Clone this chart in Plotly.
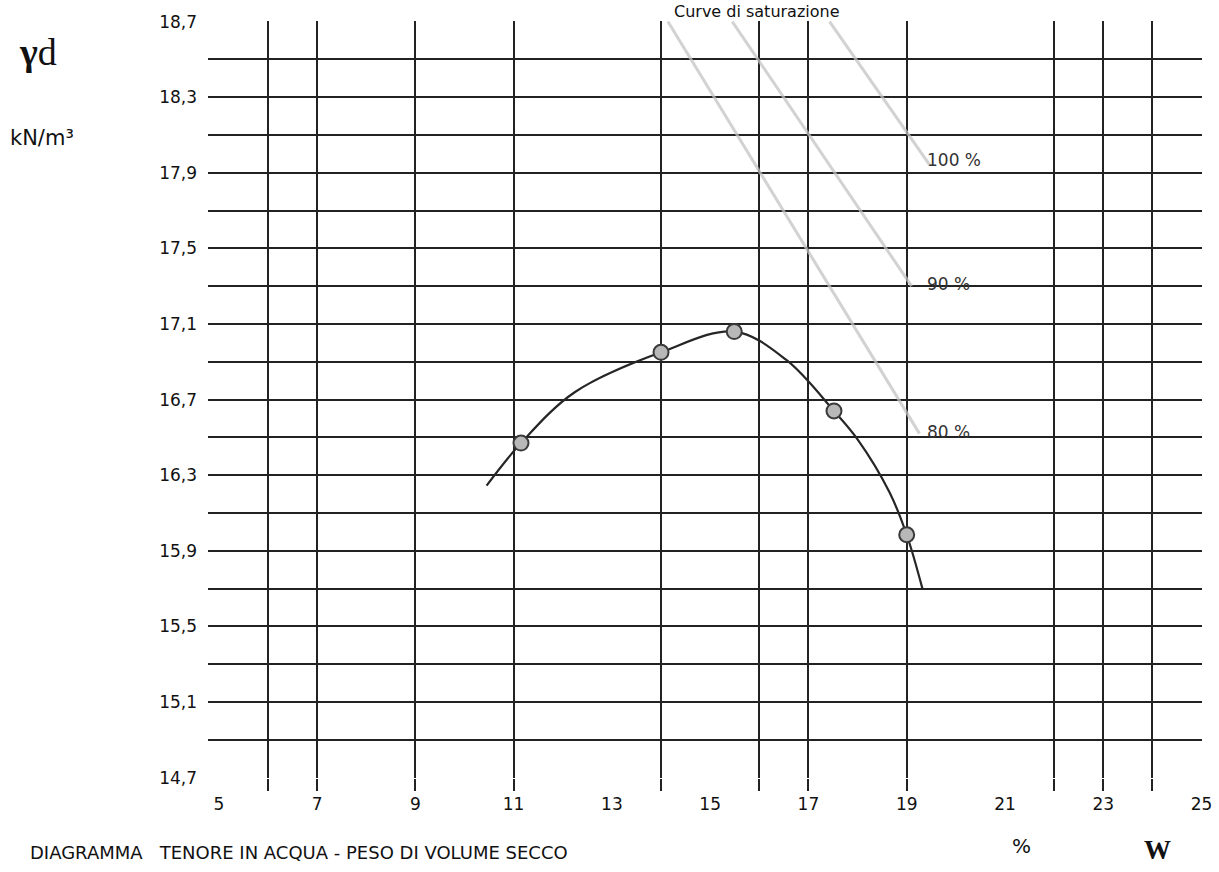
import plotly.graph_objects as go

# ---- data ----
# compaction test points (w %, gamma_d kN/m3)
w_points = [11.15, 14.0, 15.49, 17.52, 19.0]
gd_points = [16.47, 16.95, 17.06, 16.64, 15.985]

# fitted compaction curve
w_curve = [10.45, 11.15, 12.25, 14.0, 15.49, 16.55, 17.52, 18.0, 18.65, 19.0, 19.32]
gd_curve = [16.245, 16.47, 16.74, 16.95, 17.06, 16.91, 16.64, 16.49, 16.21, 15.985, 15.70]

# saturation lines (start/end)
sat_labels = ["100 %", "90 %", "80 %"]
sat_w = [[17.43, 19.47], [15.45, 19.10], [14.14, 19.26]]
sat_gd = [[18.7, 17.94], [18.7, 17.30], [18.7, 16.52]]
sat_label_w = [19.38, 19.38, 19.38]
sat_label_gd = [17.97, 17.31, 16.53]

# axes
x_label_ticks = [5, 7, 9, 11, 13, 15, 17, 19, 21, 23, 25]
x_grid_ticks = [6, 7, 9, 11, 14, 16, 17, 19, 22, 23, 24]
y_ticks = [round(14.7 + 0.2 * i, 1) for i in range(21)]
y_ticktext = [f"{v:.1f}".replace(".", ",") if i % 2 == 0 else "" for i, v in enumerate(y_ticks)]

X_RANGE = [4.78, 25.01]
Y_RANGE = [14.698, 18.703]
GRID = "#222222"
FONT = "DejaVu Sans"

fig = go.Figure()

for lab, xs, ys in zip(sat_labels, sat_w, sat_gd):
    fig.add_trace(go.Scatter(x=xs, y=ys, mode="lines",
                             line=dict(color="rgba(195,195,195,0.75)", width=3),
                             hoverinfo="skip", showlegend=False))

fig.add_trace(go.Scatter(x=w_curve, y=gd_curve, mode="lines",
                         line=dict(color="#262626", width=2.2, shape="spline", smoothing=1.0),
                         showlegend=False))
fig.add_trace(go.Scatter(x=w_points, y=gd_points, mode="markers",
                         marker=dict(size=15, color="#b8b8b8", line=dict(color="#3a3a3a", width=2)),
                         showlegend=False))

# invisible trace for secondary grid axis
fig.add_trace(go.Scatter(x=[X_RANGE[0]], y=[Y_RANGE[0]], xaxis="x2", mode="markers",
                         marker=dict(opacity=0), hoverinfo="skip", showlegend=False))

for lab, lx, ly in zip(sat_labels, sat_label_w, sat_label_gd):
    fig.add_annotation(x=lx, y=ly, text=lab, showarrow=False, xanchor="left", yanchor="middle",
                       font=dict(family=FONT, size=17, color="#333"))

def px_x(p):
    return (p - 208) / 994.0

def px_y(p):
    return (778 - p) / 757.0

fig.add_annotation(xref="paper", yref="paper", x=px_x(757), y=px_y(23), text="Curve di saturazione",
                   showarrow=False, xanchor="center", yanchor="bottom",
                   font=dict(family=FONT, size=16, color="#111"))
fig.add_annotation(xref="paper", yref="paper", x=px_x(38), y=px_y(52), text="<b>γ</b>d",
                   showarrow=False, xanchor="center", yanchor="middle",
                   font=dict(family="Liberation Serif", size=38, color="#111"))
fig.add_annotation(xref="paper", yref="paper", x=px_x(42), y=px_y(138), text="kN/m³",
                   showarrow=False, xanchor="center", yanchor="middle",
                   font=dict(family=FONT, size=21, color="#111"))
fig.add_annotation(xref="paper", yref="paper", x=px_x(28), y=px_y(852),
                   text="DIAGRAMMA\u00a0\u00a0 TENORE IN ACQUA - PESO DI VOLUME SECCO",
                   showarrow=False, xanchor="left", yanchor="middle",
                   font=dict(family=FONT, size=18, color="#111"))
fig.add_annotation(xref="paper", yref="paper", x=px_x(1021), y=px_y(846), text="%",
                   showarrow=False, xanchor="center", yanchor="middle",
                   font=dict(family=FONT, size=20, color="#111"))
fig.add_annotation(xref="paper", yref="paper", x=px_x(1157), y=px_y(850), text="<b>W</b>",
                   showarrow=False, xanchor="center", yanchor="middle",
                   font=dict(family="Liberation Serif", size=27, color="#111"))

fig.update_layout(
    width=1219, height=872,
    margin=dict(l=208, r=17, t=21, b=94, autoexpand=False),
    paper_bgcolor="white", plot_bgcolor="white",
    xaxis=dict(range=X_RANGE, tickvals=x_label_ticks, ticktext=[str(v) for v in x_label_ticks],
               showgrid=False, zeroline=False, showline=False, ticks="", automargin=False,
               ticklabelstandoff=14, tickfont=dict(family=FONT, size=17, color="#111")),
    xaxis2=dict(range=X_RANGE, overlaying="x", side="bottom", tickvals=x_grid_ticks,
                showticklabels=False, showgrid=True, gridcolor=GRID, gridwidth=1.6,
                zeroline=False, showline=False, ticks="outside", ticklen=12, automargin=False,
                tickwidth=1.6, tickcolor=GRID),
    yaxis=dict(range=Y_RANGE, tickvals=y_ticks, ticktext=y_ticktext, automargin=False,
               showgrid=True, gridcolor=GRID, gridwidth=1.6, zeroline=False, showline=False,
               ticks="", ticklabelstandoff=10, tickfont=dict(family=FONT, size=17, color="#111")),
)

fig.write_html("out.html", config={"displayModeBar": False},
               post_script="document.body.style.margin='0px';document.body.style.overflow='hidden';")
